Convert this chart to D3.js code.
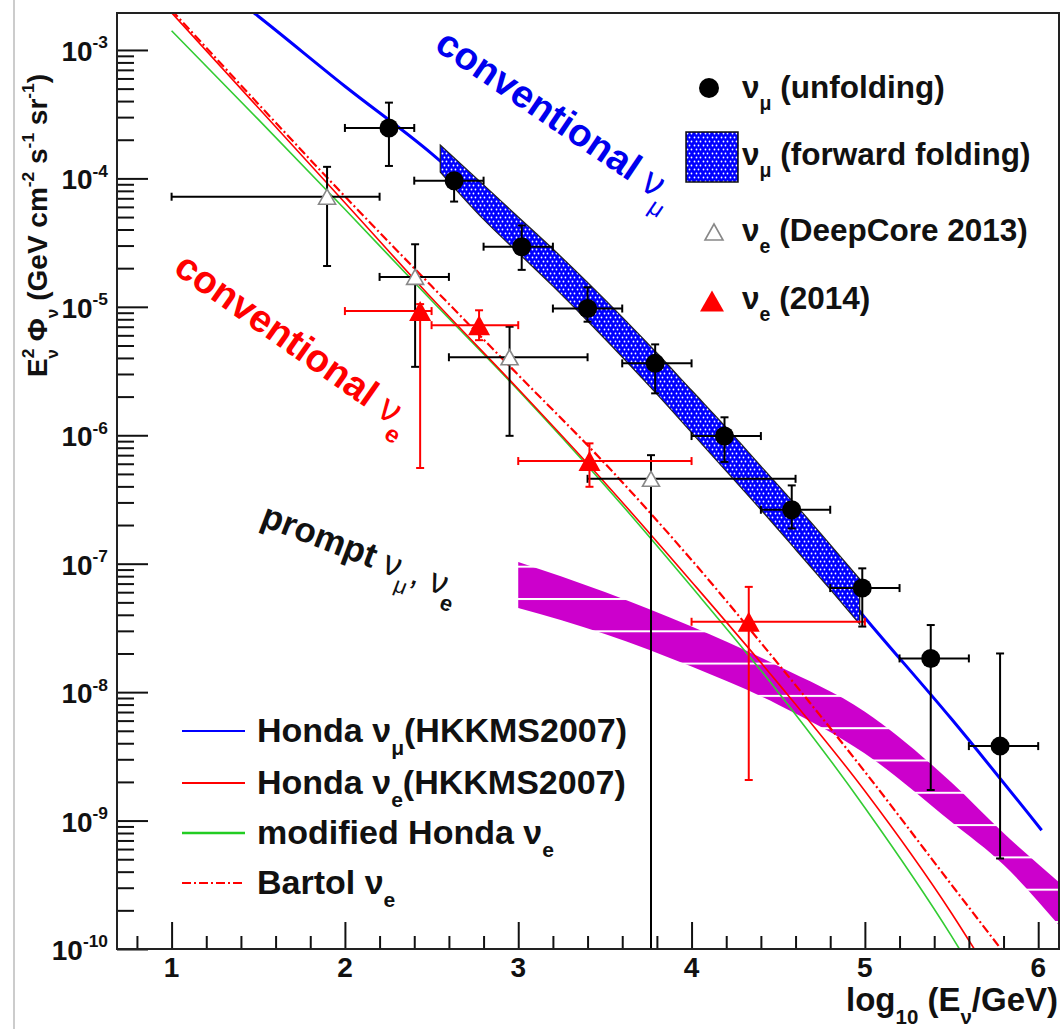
<!DOCTYPE html>
<html>
<head>
<meta charset="utf-8">
<script src="https://cdn.jsdelivr.net/npm/d3@7"></script>
<style>
  body { margin: 0; background: #fff; }
  text { font-family: "Liberation Sans", Arial, sans-serif; font-weight: bold; }
</style>
</head>
<body>
<div id="chart-area"></div>
<script>
// ---- data ----
// nu_mu unfolding (black circles)
const unfoldE    = [2.254, 2.63, 3.02, 3.40, 3.79, 4.19, 4.578, 4.985, 5.38, 5.78]
const unfoldLo   = [2.0, 2.4, 2.8, 3.2, 3.6, 4.0, 4.4, 4.8, 5.2, 5.6]
const unfoldHi   = [2.4, 2.8, 3.2, 3.6, 4.0, 4.4, 4.8, 5.2, 5.6, 6.0]
const unfoldFlux = [2.47e-4, 9.6e-5, 2.94e-5, 9.7e-6, 3.63e-6, 9.86e-7, 2.63e-7, 6.46e-8, 1.83e-8, 3.8e-9]
const unfoldUp   = [3.89e-4, 1.1e-4, 4.3e-5, 1.42e-5, 5.1e-6, 1.38e-6, 4.07e-7, 9.2e-8, 3.33e-8, 2.0e-8]
const unfoldDown = [1.25e-4, 6.6e-5, 1.94e-5, 7.66e-6, 2.12e-6, 6.2e-7, 1.88e-7, 3.24e-8, 1.73e-9, 5.07e-10]

// nu_e DeepCore 2013 (open triangles)
const dcE    = [1.897, 2.405, 2.95, 3.766]
const dcLo   = [1.0, 2.2, 2.6, 3.4]
const dcHi   = [2.2, 2.6, 3.4, 4.6]
const dcFlux = [7.2e-5, 1.71e-5, 4.05e-6, 4.58e-7]
const dcUp   = [1.23e-4, 3.07e-5, 7.0e-6, 7.0e-7]
const dcDown = [2.08e-5, 3.41e-6, 9.9e-7, 1e-11]

// nu_e 2014 (red triangles)
const nue14E    = [2.434, 2.774, 3.411, 4.33]
const nue14Lo   = [2.0, 2.5, 3.0, 4.0]
const nue14Hi   = [2.5, 3.0, 4.0, 5.0]
const nue14Flux = [9.27e-6, 7.2e-6, 6.3e-7, 3.53e-8]
const nue14Up   = [1.05e-5, 9.4e-6, 8.65e-7, 6.6e-8]
const nue14Down = [5.56e-7, 5.5e-6, 3.97e-7, 2.07e-9]

// model curves
const hondaMuE    = [1.0, 1.5, 2.0, 2.5, 3.0, 3.5, 4.0, 4.5, 5.0, 5.5, 6.02]
const hondaMuFlux = [6.03e-3, 1.83e-3, 5.22e-4, 1.56e-4, 3.8e-5, 8.04e-6, 1.51e-6, 2.51e-7, 3.8e-8, 6.17e-9, 8.41e-10]
const hondaEE     = [1.0, 1.5, 2.0, 2.5, 3.0, 3.5, 4.0, 4.5, 5.0, 5.5, 5.7]
const hondaEFlux  = [1.95e-3, 3.55e-4, 6.46e-5, 1.17e-5, 2.29e-6, 4.27e-7, 7.24e-8, 1.17e-8, 1.7e-9, 1.9e-10, 7.1e-11]
const modEE       = [1.0, 1.5, 2.0, 2.5, 3.0, 3.5, 4.0, 4.5, 5.0, 5.5, 5.6]
const modEFlux    = [1.41e-3, 2.88e-4, 5.75e-5, 1.12e-5, 2.24e-6, 4.07e-7, 6.61e-8, 1.0e-8, 1.26e-9, 1.26e-10, 7.6e-11]
const bartolE     = [1.0, 1.5, 2.0, 2.5, 3.0, 3.5, 4.0, 4.5, 5.0, 5.5, 5.9]
const bartolFlux  = [2.04e-3, 3.8e-4, 7.24e-5, 1.45e-5, 2.95e-6, 6.03e-7, 1.07e-7, 1.66e-8, 2.4e-9, 3.16e-10, 6.3e-11]

// nu_mu forward folding band
const ffE  = [2.55, 2.8, 3.0, 3.2, 3.4, 3.6, 3.8, 4.0, 4.2, 4.4, 4.6, 4.8, 4.97]
const ffHi = [1.82e-4, 8.91e-5, 5.01e-5, 2.82e-5, 1.55e-5, 8.32e-6, 4.37e-6, 2.24e-6, 1.15e-6, 5.75e-7, 2.88e-7, 1.41e-7, 7.59e-8]
const ffLo = [1.12e-4, 4.79e-5, 2.63e-5, 1.45e-5, 7.76e-6, 4.07e-6, 2.09e-6, 1.05e-6, 5.25e-7, 2.63e-7, 1.29e-7, 6.31e-8, 3.39e-8]

// prompt band
const promptE  = [3.0, 3.5, 4.0, 4.5, 5.0, 5.5, 5.8, 6.12]
const promptHi = [1.03e-7, 6.01e-8, 3.24e-8, 1.60e-8, 7.05e-9, 1.98e-9, 8.0e-10, 3.31e-10]
const promptLo = [4.52e-8, 2.84e-8, 1.58e-8, 7.98e-9, 3.33e-9, 9.73e-10, 4.53e-10, 1.53e-10]

// axis ticks
const xMajor = [1, 2, 3, 4, 5, 6]
const xMinor = [0.8, 1.2, 1.4, 1.6, 1.8, 2.2, 2.4, 2.6, 2.8, 3.2, 3.4, 3.6, 3.8, 4.2, 4.4, 4.6, 4.8, 5.2, 5.4, 5.6, 5.8]
const yMajorExp = [-3, -4, -5, -6, -7, -8, -9, -10]

// ---- layout ----
const WIDTH = 1061, HEIGHT = 1029
const FRAME = { LEFT: 117, RIGHT: 1059, TOP: 13, BOTTOM: 949 }

const svg = d3.select("#chart-area").append("svg")
  .attr("width", WIDTH)
  .attr("height", HEIGHT)

const x = d3.scaleLinear().domain([0.685, 6.12]).range([FRAME.LEFT, FRAME.RIGHT])
const y = d3.scaleLog().domain([1e-10, 1.94e-3]).range([FRAME.BOTTOM, FRAME.TOP])

// page edge line
svg.append("line").attr("x1", 14).attr("x2", 14).attr("y1", 0).attr("y2", HEIGHT)
  .attr("stroke", "#bbb").attr("stroke-width", 1.5)

const defs = svg.append("defs")
defs.append("clipPath").attr("id", "plot-clip").append("rect")
  .attr("x", FRAME.LEFT).attr("y", FRAME.TOP)
  .attr("width", FRAME.RIGHT - FRAME.LEFT).attr("height", FRAME.BOTTOM - FRAME.TOP)

// dotted blue fill
const dots = defs.append("pattern").attr("id", "dots")
  .attr("patternUnits", "userSpaceOnUse").attr("width", 9).attr("height", 8)
dots.append("rect").attr("width", 9).attr("height", 8).attr("fill", "#0000ff")
;[[1.5, 1.5], [5.5, 1.5], [3.5, 5.5], [7.5, 5.5]].forEach(p => {
  dots.append("circle").attr("cx", p[0]).attr("cy", p[1]).attr("r", 0.9).attr("fill", "#fff")
})

// magenta band with white horizontal stripes
const stripes = defs.append("pattern").attr("id", "stripes")
  .attr("patternUnits", "userSpaceOnUse").attr("width", 40).attr("height", 32.3).attr("y", 598)
stripes.append("rect").attr("width", 40).attr("height", 32.3).attr("fill", "#cc00cc")
stripes.append("rect").attr("width", 40).attr("height", 2).attr("y", 0).attr("fill", "#fff")

const plot = svg.append("g").attr("clip-path", "url(#plot-clip)")

// rich text helper: parts with optional sub/sup
function rich(sel, parts, size) {
  let shift = 0
  parts.forEach(p => {
    const target = p.sub ? size * 0.38 : p.sup ? -size * 0.45 : 0
    sel.append("tspan")
      .attr("font-size", (p.sub || p.sup) ? size * 0.62 : size)
      .attr("dy", target - shift)
      .attr("dx", p.dx || 0)
      .attr("font-weight", p.w || null)
      .text(p.t)
    shift = target
  })
  return sel
}

// ---- prompt band ----
const band = d3.area()
  .x(d => x(d.e)).y0(d => y(d.lo)).y1(d => y(d.hi))
  .curve(d3.curveMonotoneX)
const promptData = promptE.map((e, i) => ({ e, lo: promptLo[i], hi: promptHi[i] }))
plot.append("path").datum(promptData).attr("d", band).attr("fill", "url(#stripes)")

// ---- model curves ----
const line = d3.line().x(d => x(d.e)).y(d => y(d.f)).curve(d3.curveMonotoneX)
const curves = [
  { e: modEE, f: modEFlux, color: "#33cc33", w: 1.6, dash: null },
  { e: hondaEE, f: hondaEFlux, color: "#ff0000", w: 1.6, dash: null },
  { e: bartolE, f: bartolFlux, color: "#ff0000", w: 2.2, dash: "9,3,2,3" },
  { e: hondaMuE, f: hondaMuFlux, color: "#0000ff", w: 3, dash: null }
]
curves.forEach(c => {
  plot.append("path")
    .datum(c.e.map((e, i) => ({ e, f: c.f[i] })))
    .attr("d", line)
    .attr("fill", "none")
    .attr("stroke", c.color)
    .attr("stroke-width", c.w)
    .attr("stroke-dasharray", c.dash)
})

// ---- forward folding band ----
const ffData = ffE.map((e, i) => ({ e, lo: ffLo[i], hi: ffHi[i] }))
plot.append("path").datum(ffData).attr("d", band)
  .attr("fill", "url(#dots)").attr("stroke", "#222").attr("stroke-width", 1.2)

// ---- error bars + markers ----
function errorBars(E, lo, hi, flux, up, down, color) {
  const cap = 4
  E.forEach((e, i) => {
    const cx = x(e), cy = y(flux[i])
    const xl = x(lo[i]), xr = x(hi[i]), yt = y(up[i]), yb = y(down[i])
    const g = plot.append("g").attr("stroke", color).attr("stroke-width", 2)
    g.append("line").attr("x1", xl).attr("x2", xr).attr("y1", cy).attr("y2", cy)
    g.append("line").attr("x1", cx).attr("x2", cx).attr("y1", yt).attr("y2", yb)
    g.append("line").attr("x1", xl).attr("x2", xl).attr("y1", cy - cap).attr("y2", cy + cap)
    g.append("line").attr("x1", xr).attr("x2", xr).attr("y1", cy - cap).attr("y2", cy + cap)
    g.append("line").attr("x1", cx - cap).attr("x2", cx + cap).attr("y1", yt).attr("y2", yt)
    g.append("line").attr("x1", cx - cap).attr("x2", cx + cap).attr("y1", yb).attr("y2", yb)
  })
}

function triPath(cx, cy, hw, h) {
  return `M${cx},${cy - h / 2}L${cx + hw},${cy + h / 2}L${cx - hw},${cy + h / 2}Z`
}

errorBars(dcE, dcLo, dcHi, dcFlux, dcUp, dcDown, "#000")
errorBars(nue14E, nue14Lo, nue14Hi, nue14Flux, nue14Up, nue14Down, "#ff0000")
errorBars(unfoldE, unfoldLo, unfoldHi, unfoldFlux, unfoldUp, unfoldDown, "#000")

dcE.forEach((e, i) => {
  plot.append("path").attr("d", triPath(x(e), y(dcFlux[i]), 8.5, 15))
    .attr("fill", "#fff").attr("stroke", "#888").attr("stroke-width", 1.6)
})
nue14E.forEach((e, i) => {
  plot.append("path").attr("d", triPath(x(e), y(nue14Flux[i]), 11, 20)).attr("fill", "#ff0000")
})
unfoldE.forEach((e, i) => {
  plot.append("circle").attr("cx", x(e)).attr("cy", y(unfoldFlux[i])).attr("r", 9.5).attr("fill", "#000")
})

// ---- axes ----
const yMinor = []
for (let p = -10; p < -3; p++) for (let k = 2; k <= 9; k++) yMinor.push(k * Math.pow(10, p))
const yMajor = yMajorExp.map(p => Math.pow(10, p))

const yAxisG = svg.append("g").attr("transform", `translate(${FRAME.LEFT},0)`)
yAxisG.append("g").call(d3.axisLeft(y).tickValues(yMinor).tickSize(-17).tickSizeOuter(0).tickFormat(""))
yAxisG.append("g").call(d3.axisLeft(y).tickValues(yMajor).tickSize(-31).tickSizeOuter(0).tickFormat(""))
yAxisG.selectAll(".domain").remove()
yAxisG.selectAll("line").attr("stroke", "#111").attr("stroke-width", 2)

const xAxisG = svg.append("g").attr("transform", `translate(0,${FRAME.BOTTOM})`)
xAxisG.append("g").call(d3.axisBottom(x).tickValues(xMinor).tickSize(-13).tickSizeOuter(0).tickFormat(""))
xAxisG.append("g").call(d3.axisBottom(x).tickValues(xMajor).tickSize(-27).tickSizeOuter(0).tickFormat(""))
xAxisG.selectAll(".domain").remove()
xAxisG.selectAll("line").attr("stroke", "#111").attr("stroke-width", 2)

// frame
svg.append("rect")
  .attr("x", FRAME.LEFT).attr("y", FRAME.TOP)
  .attr("width", FRAME.RIGHT - FRAME.LEFT).attr("height", FRAME.BOTTOM - FRAME.TOP)
  .attr("fill", "none").attr("stroke", "#222").attr("stroke-width", 2)

// tick labels
yMajorExp.forEach(p => {
  const t = svg.append("text").attr("x", 108).attr("y", y(Math.pow(10, p)) + 11)
    .attr("text-anchor", "end").attr("fill", "#111")
  rich(t, [{ t: "10" }, { t: String(p), sup: true }], 28)
})
xMajor.forEach(v => {
  svg.append("text").attr("x", x(v)).attr("y", 977).attr("text-anchor", "middle")
    .attr("font-size", 28).attr("fill", "#111").text(v)
})

// axis titles
rich(svg.append("text").attr("transform", "translate(47,377) rotate(-90)").attr("fill", "#111"), [
  { t: "E" }, { t: "2", sup: true }, { t: "ν", sub: true, dx: -10 }, { t: " Φ" }, { t: "ν", sub: true },
  { t: " (GeV cm" }, { t: "-2", sup: true }, { t: " s" }, { t: "-1", sup: true },
  { t: " sr" }, { t: "-1", sup: true }, { t: ")" }
], 28)

rich(svg.append("text").attr("x", 1058).attr("y", 1011).attr("text-anchor", "end").attr("fill", "#111"), [
  { t: "log" }, { t: "10", sub: true }, { t: " (E" }, { t: "ν", sub: true }, { t: "/GeV)" }
], 33)

// ---- annotations ----
rich(svg.append("text").attr("transform", "translate(433,49) rotate(34)").attr("fill", "#0000ee"), [
  { t: "conventional " }, { t: "ν", w: "normal" }, { t: "μ", sub: true, w: "normal" }
], 38.5)
rich(svg.append("text").attr("transform", "translate(172,272) rotate(35)").attr("fill", "#ff0000"), [
  { t: "conventional " }, { t: "ν", w: "normal" }, { t: "e", sub: true }
], 38.5)
rich(svg.append("text").attr("transform", "translate(259,525) rotate(21)").attr("fill", "#111"), [
  { t: "prompt " }, { t: "ν", w: "normal" }, { t: "μ", sub: true, w: "normal" },
  { t: ", ", w: "normal" }, { t: "ν", w: "normal" }, { t: "e", sub: true }
], 35)

// ---- legend (top right) ----
const LEG = 31.5
svg.append("circle").attr("cx", 709).attr("cy", 88).attr("r", 10).attr("fill", "#000")
rich(svg.append("text").attr("x", 742).attr("y", 98).attr("fill", "#111"),
  [{ t: "ν" }, { t: "μ", sub: true }, { t: " (unfolding)" }], LEG)

svg.append("rect").attr("x", 686).attr("y", 132).attr("width", 52).attr("height", 50)
  .attr("fill", "url(#dots)").attr("stroke", "#111").attr("stroke-width", 1.5)
rich(svg.append("text").attr("x", 742).attr("y", 165).attr("fill", "#111"),
  [{ t: "ν" }, { t: "μ", sub: true }, { t: " (forward folding)" }], LEG)

svg.append("path").attr("d", triPath(714, 232, 9, 16))
  .attr("fill", "#fff").attr("stroke", "#888").attr("stroke-width", 1.6)
rich(svg.append("text").attr("x", 742).attr("y", 241).attr("fill", "#111"),
  [{ t: "ν" }, { t: "e", sub: true }, { t: " (DeepCore 2013)" }], LEG)

svg.append("path").attr("d", triPath(712, 301, 12, 21)).attr("fill", "#ff0000")
rich(svg.append("text").attr("x", 742).attr("y", 309).attr("fill", "#111"),
  [{ t: "ν" }, { t: "e", sub: true }, { t: " (2014)" }], LEG)

// ---- legend (bottom left) ----
const LOW = 34
const lowLegend = [
  { y: 731, color: "#0000ff", w: 2, dash: null, parts: [{ t: "Honda ν" }, { t: "μ", sub: true }, { t: "(HKKMS2007)" }] },
  { y: 783, color: "#ff0000", w: 2, dash: null, parts: [{ t: "Honda ν" }, { t: "e", sub: true }, { t: "(HKKMS2007)" }] },
  { y: 833, color: "#22cc22", w: 2.5, dash: null, parts: [{ t: "modified Honda ν" }, { t: "e", sub: true }] },
  { y: 883, color: "#ff0000", w: 2, dash: "9,3,2,3", parts: [{ t: "Bartol ν" }, { t: "e", sub: true }] }
]
lowLegend.forEach(d => {
  svg.append("line").attr("x1", 182).attr("x2", 245).attr("y1", d.y).attr("y2", d.y)
    .attr("stroke", d.color).attr("stroke-width", d.w).attr("stroke-dasharray", d.dash)
  rich(svg.append("text").attr("x", 257).attr("y", d.y + 11).attr("fill", "#111"), d.parts, LOW)
})
</script>
</body>
</html>
